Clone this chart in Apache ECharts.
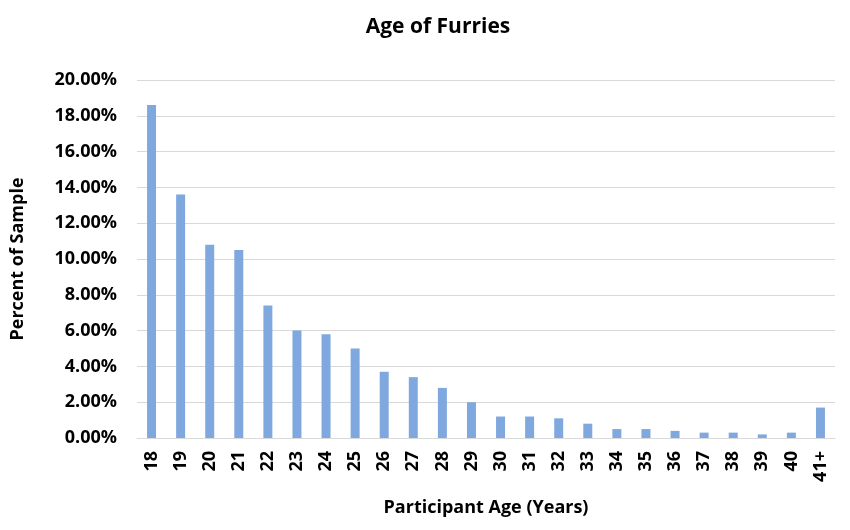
<!DOCTYPE html>
<html><head><meta charset="utf-8">
<script src="https://cdn.jsdelivr.net/npm/echarts@6/dist/echarts.min.js"></script>
<style>html,body{margin:0;padding:0;background:#fff}#c{width:850px;height:530px}</style>
</head><body><div id="c"></div>
<script>
const categories = ['18','19','20','21','22','23','24','25','26','27','28','29','30','31','32','33','34','35','36','37','38','39','40','41+'];
const percentValues = [18.6,13.6,10.8,10.5,7.4,6.0,5.8,5.0,3.7,3.4,2.8,2.0,1.2,1.2,1.1,0.8,0.5,0.5,0.4,0.3,0.3,0.2,0.3,1.7];
const titleText = 'Age of Furries';
const xName = 'Participant Age (Years)';
const yName = 'Percent of Sample';
const F = '"Open Sans", sans-serif';
const chart = echarts.init(document.getElementById('c'));
chart.setOption({
  animation:false,
  title:{text:titleText,left:433,top:12,textAlign:'center',textStyle:{fontFamily:F,fontWeight:'bold',fontSize:21,color:'#000'}},
  grid:{left:137,right:15,top:80,bottom:92,containLabel:false,outerBoundsMode:'none'},
  xAxis:{type:'category',data:categories,
    name:xName,nameLocation:'middle',nameGap:61,
    nameTextStyle:{fontFamily:F,fontWeight:'bold',fontSize:18,color:'#000'},
    axisLine:{lineStyle:{color:'#d9d9d9'}},axisTick:{show:false},
    axisLabel:{rotate:90,fontFamily:F,fontWeight:'bold',fontSize:18,color:'#000',margin:13}},
  yAxis:{type:'value',min:0,max:20,interval:2,
    name:yName,nameLocation:'middle',nameGap:110,
    nameTextStyle:{fontFamily:F,fontWeight:'bold',fontSize:18,color:'#000'},
    axisLine:{show:false},axisTick:{show:false},
    splitLine:{lineStyle:{color:'#d9d9d9',width:1}},
    axisLabel:{formatter:v=>v.toFixed(2)+'%',fontFamily:F,fontWeight:'bold',fontSize:18,color:'#000',margin:20}},
  series:[{type:'bar',data:percentValues,barWidth:9,itemStyle:{color:'#7FA9DE'}}]
});
</script></body></html>
